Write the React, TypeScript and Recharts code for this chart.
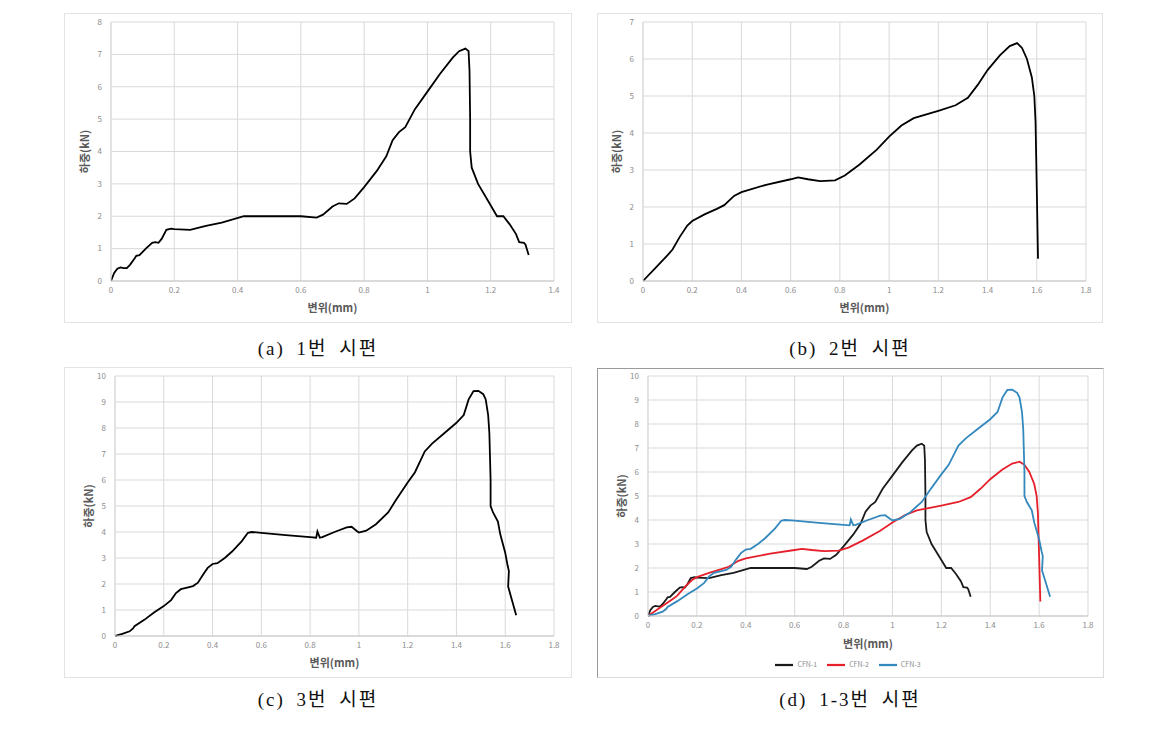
import { CartesianGrid, Legend, Line, LineChart, XAxis, YAxis } from "recharts";

// 하중-변위 곡선 (CFN-1, CFN-2, CFN-3)
const CFN1: [number, number][] = [
  [0, 0], [0.01, 0.25], [0.02, 0.38], [0.03, 0.42], [0.04, 0.4], [0.05, 0.4], [0.06, 0.5],
  [0.075, 0.7], [0.08, 0.78], [0.09, 0.8], [0.11, 1.0], [0.13, 1.18], [0.14, 1.2], [0.15, 1.18],
  [0.16, 1.3], [0.175, 1.58], [0.19, 1.62], [0.2, 1.6], [0.25, 1.58], [0.3, 1.7], [0.35, 1.8],
  [0.42, 2.0], [0.5, 2.0], [0.6, 2.0], [0.65, 1.96], [0.67, 2.05], [0.7, 2.3], [0.72, 2.4],
  [0.745, 2.38], [0.77, 2.55], [0.8, 2.9], [0.84, 3.4], [0.87, 3.85], [0.89, 4.35], [0.91, 4.6],
  [0.93, 4.75], [0.96, 5.3], [1.0, 5.85], [1.04, 6.4], [1.08, 6.9], [1.1, 7.1], [1.12, 7.18],
  [1.13, 7.1], [1.133, 6.5], [1.135, 5.0], [1.135, 4.0], [1.14, 3.5], [1.16, 3.0], [1.19, 2.5],
  [1.22, 2.0], [1.24, 2.0], [1.26, 1.75], [1.28, 1.45], [1.29, 1.2], [1.305, 1.18], [1.31, 1.12],
  [1.32, 0.8],
];

const CFN2: [number, number][] = [
  [0, 0], [0.05, 0.35], [0.1, 0.7], [0.12, 0.85], [0.15, 1.2], [0.18, 1.5], [0.2, 1.62],
  [0.25, 1.8], [0.3, 1.95], [0.33, 2.05], [0.37, 2.3], [0.4, 2.4], [0.5, 2.6], [0.6, 2.75],
  [0.63, 2.8], [0.67, 2.75], [0.72, 2.7], [0.78, 2.72], [0.82, 2.85], [0.88, 3.15], [0.95, 3.55],
  [1.0, 3.9], [1.05, 4.2], [1.1, 4.4], [1.2, 4.6], [1.27, 4.75], [1.32, 4.95], [1.36, 5.3],
  [1.4, 5.7], [1.45, 6.1], [1.49, 6.35], [1.52, 6.43], [1.54, 6.3], [1.56, 6.0], [1.58, 5.5],
  [1.59, 5.0], [1.595, 4.3], [1.6, 2.5], [1.605, 0.6],
];

const CFN3: [number, number][] = [
  [0, 0], [0.03, 0.08], [0.06, 0.18], [0.075, 0.3], [0.08, 0.38], [0.12, 0.62], [0.16, 0.9],
  [0.2, 1.15], [0.23, 1.38], [0.25, 1.65], [0.27, 1.8], [0.3, 1.87], [0.32, 1.92], [0.34, 2.05],
  [0.36, 2.35], [0.38, 2.62], [0.4, 2.77], [0.42, 2.8], [0.45, 3.0], [0.48, 3.25], [0.52, 3.65],
  [0.545, 3.97], [0.56, 4.0], [0.6, 3.97], [0.7, 3.88], [0.8, 3.8], [0.825, 3.78], [0.83, 4.02],
  [0.84, 3.78], [0.85, 3.8], [0.9, 4.0], [0.95, 4.18], [0.97, 4.2], [0.99, 4.05], [1.0, 3.98],
  [1.03, 4.05], [1.07, 4.3], [1.12, 4.75], [1.15, 5.2], [1.2, 5.9], [1.23, 6.3], [1.27, 7.1],
  [1.3, 7.4], [1.35, 7.8], [1.4, 8.2], [1.43, 8.5], [1.45, 9.1], [1.47, 9.42], [1.49, 9.43],
  [1.51, 9.3], [1.52, 9.1], [1.53, 8.5], [1.535, 7.8], [1.54, 6.0], [1.54, 5.0], [1.55, 4.75],
  [1.57, 4.4], [1.58, 3.9], [1.6, 3.2], [1.61, 2.7], [1.615, 2.5], [1.612, 1.9], [1.63, 1.3],
  [1.645, 0.8],
];

const X_TICKS_14 = [0, 0.2, 0.4, 0.6, 0.8, 1, 1.2, 1.4];
const X_TICKS_18 = [0, 0.2, 0.4, 0.6, 0.8, 1, 1.2, 1.4, 1.6, 1.8];
const Y_TICKS_7 = [0, 1, 2, 3, 4, 5, 6, 7];
const Y_TICKS_8 = [0, 1, 2, 3, 4, 5, 6, 7, 8];
const Y_TICKS_10 = [0, 1, 2, 3, 4, 5, 6, 7, 8, 9, 10];

const SERIES_NAMES = ["CFN-1", "CFN-2", "CFN-3"];
const CAPTIONS = ["(a) 1번 시편", "(b) 2번 시편", "(c) 3번 시편", "(d) 1-3번 시편"];

const toPts = (arr: [number, number][]) => arr.map(([x, y]) => ({ x, y }));

const FONT = "'Noto Sans CJK KR', 'Noto Sans', sans-serif";
const TICK = { fontSize: 8, fill: "#8c8c8c", fontFamily: FONT };
const TITLE = { fontSize: 11, fill: "#595959", fontWeight: 600, fontFamily: FONT };

type Series = { name: string; data: [number, number][]; color: string };

function Panel({ left, top, width, height, margin, xTicks, yTicks, series, legend, border, xLabelOffset, xAxisHeight }: {
  left: number; top: number; width: number; height: number;
  margin: { top: number; right: number; bottom: number; left: number };
  xTicks: number[]; yTicks: number[]; series: Series[]; legend?: boolean; border: React.CSSProperties;
  xLabelOffset: number; xAxisHeight: number;
}) {
  return (
    <div style={{ position: "absolute", left, top, width, height, boxSizing: "border-box", ...border }}>
      <LineChart width={width - 2} height={height - 2} margin={margin} style={{ fontFamily: FONT }}>
        <CartesianGrid stroke="#d9d9d9" strokeWidth={1} />
        <XAxis type="number" dataKey="x" domain={[xTicks[0], xTicks[xTicks.length - 1]]} ticks={xTicks}
          allowDataOverflow interval={0} tick={TICK} tickLine={false} tickSize={0} tickMargin={6}
          axisLine={{ stroke: "#c8c8c8" }} height={xAxisHeight}
          label={{ value: "변위(mm)", position: "insideBottom", offset: xLabelOffset, style: TITLE }} />
        <YAxis type="number" domain={[yTicks[0], yTicks[yTicks.length - 1]]} ticks={yTicks} interval={0}
          tick={TICK} tickLine={false} tickSize={0} tickMargin={9} axisLine={{ stroke: "#d9d9d9" }} width={30}
          label={{ value: "하중(kN)", angle: -90, position: "insideLeft", offset: 4, style: { ...TITLE, textAnchor: "middle" } }} />
        {series.map((s) => (
          <Line key={s.name} name={s.name} data={toPts(s.data)} dataKey="y" type="linear" stroke={s.color}
            strokeWidth={1.8} dot={false} activeDot={false} isAnimationActive={false} />
        ))}
        {legend && (
          <Legend verticalAlign="bottom" align="center" iconType="plainline" iconSize={18}
            wrapperStyle={{ fontSize: 7, fontFamily: FONT }}
            formatter={(v) => <span style={{ color: "#8c8c8c" }}>{v}</span>} />
        )}
      </LineChart>
    </div>
  );
}

function Caption({ x, y, text }: { x: number; y: number; text: string }) {
  return (
    <div style={{
      position: "absolute", left: x - 120, top: y - 14, width: 240, textAlign: "center",
      fontFamily: "'Liberation Serif', 'Noto Sans CJK KR', serif", fontSize: 19, color: "#111",
      letterSpacing: 2, wordSpacing: 5, whiteSpace: "pre",
    }}>{text}</div>
  );
}

const LIGHT = { border: "1px solid #e3e3e3" };
const DARK = { borderTop: "1px solid #9a9a9a", borderLeft: "1px solid #9a9a9a", borderRight: "1px solid #dcdcdc", borderBottom: "1px solid #dcdcdc" };

export default function App() {
  const black = (d: [number, number][], i: number): Series => ({ name: SERIES_NAMES[i], data: d, color: "#000" });
  return (
    <div style={{ position: "absolute", left: 0, top: 0, width: 1157, height: 733, background: "#fff" }}>
      <Panel left={64} top={13} width={508} height={310} margin={{ top: 8, right: 17, bottom: 11, left: 16 }}
        xTicks={X_TICKS_14} yTicks={Y_TICKS_8} series={[black(CFN1, 0)]} border={LIGHT} xLabelOffset={-1} xAxisHeight={30} />
      <Panel left={597} top={13} width={506} height={310} margin={{ top: 8, right: 16, bottom: 11, left: 15 }}
        xTicks={X_TICKS_18} yTicks={Y_TICKS_7} series={[black(CFN2, 1)]} border={LIGHT} xLabelOffset={-1} xAxisHeight={30} />
      <Panel left={64} top={367} width={508} height={311} margin={{ top: 8, right: 17, bottom: 11, left: 20 }}
        xTicks={X_TICKS_18} yTicks={Y_TICKS_10} series={[black(CFN3, 2)]} border={LIGHT} xLabelOffset={-1} xAxisHeight={30} />
      <Panel left={597} top={368} width={507} height={310} margin={{ top: 7, right: 15, bottom: 3, left: 20 }}
        xTicks={X_TICKS_18} yTicks={Y_TICKS_10} legend border={DARK} xLabelOffset={8} xAxisHeight={40}
        series={[
          { name: SERIES_NAMES[0], data: CFN1, color: "#1a1a1a" },
          { name: SERIES_NAMES[1], data: CFN2, color: "#e5202b" },
          { name: SERIES_NAMES[2], data: CFN3, color: "#3388bd" },
        ]} />
      <Caption x={318} y={347} text={CAPTIONS[0]} />
      <Caption x={850} y={347} text={CAPTIONS[1]} />
      <Caption x={318} y={698} text={CAPTIONS[2]} />
      <Caption x={850} y={698} text={CAPTIONS[3]} />
    </div>
  );
}
